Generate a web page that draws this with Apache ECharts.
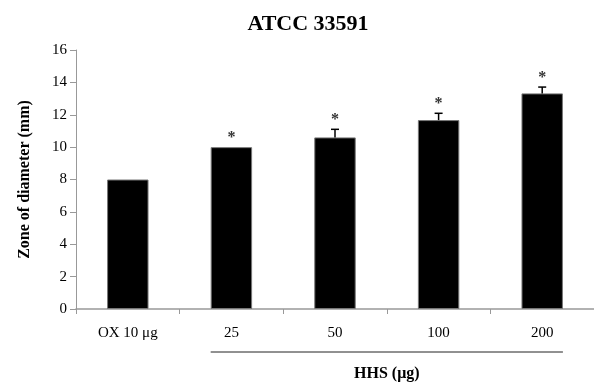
<!DOCTYPE html>
<html><head><meta charset="utf-8">
<script src="https://cdn.jsdelivr.net/npm/echarts@6/dist/echarts.min.js"></script>
<style>html,body{margin:0;padding:0;background:#fff}#c{width:594px;height:384px}</style>
</head><body><div id="c"></div>
<script>
const categories = ['OX 10 μg', '25', '50', '100', '200'];
const means = [8.0, 10.0, 10.6, 11.67, 13.32];
const errors = [0, 0, 0.5, 0.42, 0.39];
const marks = ['', '*', '*', '*', '*'];
const yTicks = [0, 2, 4, 6, 8, 10, 12, 14, 16];
const groupLabel = 'HHS (μg)';
const groupFrom = 1, groupTo = 4;

const serif = '"Liberation Serif", "DejaVu Serif", serif';
const chart = echarts.init(document.getElementById('c'), null, {renderer: 'canvas'});
const errData = means.map((m, i) => [i, m, errors[i], marks[i]]);

chart.setOption({
  animation: false,
  title: {text: 'ATCC 33591', left: 303, top: 8, textAlign: 'center',
    textStyle: {fontFamily: serif, fontWeight: 'bold', fontSize: 22, color: '#000'}},
  grid: {left: 76, right: 0, top: 50, bottom: 75},
  xAxis: {type: 'category', data: categories,
    axisLine: {lineStyle: {color: '#999', width: 1.5}},
    axisTick: {show: true, length: 5, lineStyle: {color: '#999'}},
    axisLabel: {fontFamily: serif, fontSize: 15, color: '#000', margin: 17}},
  yAxis: {type: 'value', min: yTicks[0], max: yTicks[yTicks.length - 1], interval: 2,
    name: 'Zone of diameter (mm)', nameLocation: 'middle', nameGap: 43, nameRotate: 90,
    nameTextStyle: {fontFamily: serif, fontWeight: 'bold', fontSize: 16, color: '#000'},
    axisLine: {show: true, lineStyle: {color: '#999'}},
    axisTick: {show: true, length: 6, lineStyle: {color: '#999'}},
    axisLabel: {fontFamily: serif, fontSize: 15, color: '#000', margin: 9},
    splitLine: {show: false}},
  series: [
    {type: 'bar', data: means, barWidth: '40%',
      itemStyle: {color: '#000', borderColor: '#777', borderWidth: 1}},
    {type: 'custom', data: errData, z: 5,
      renderItem: function (params, api) {
        const i = api.value(0), m = api.value(1), e = api.value(2);
        const top = api.coord([i, m + e]);
        const base = api.coord([i, m]);
        const children = [];
        if (e > 0) {
          children.push({type: 'line', shape: {x1: top[0], y1: base[1], x2: top[0], y2: top[1]},
            style: {stroke: '#000', lineWidth: 1.5}});
          children.push({type: 'line', shape: {x1: top[0] - 4, y1: top[1], x2: top[0] + 4, y2: top[1]},
            style: {stroke: '#000', lineWidth: 1.5}});
        }
        const mk = errData[params.dataIndex][3];
        if (mk) {
          children.push({type: 'text', x: top[0], y: top[1] - 1,
            style: {text: mk, fontFamily: serif, fontSize: 16, fontWeight: 'bold', fill: '#333',
              align: 'center', verticalAlign: 'bottom'}});
        }
        return {type: 'group', children: children};
      }}
  ]
});

function addGroup() {
  const a = chart.convertToPixel({xAxisIndex: 0}, groupFrom);
  const b = chart.convertToPixel({xAxisIndex: 0}, groupTo);
  const halfBar = 103.6 * 0.2;
  const x1 = a - halfBar, x2 = b + halfBar;
  const y0 = chart.convertToPixel({yAxisIndex: 0}, 0);
  chart.setOption({graphic: [
    {type: 'line', shape: {x1: x1, y1: y0 + 43, x2: x2, y2: y0 + 43},
      style: {stroke: '#222', lineWidth: 1}},
    {type: 'text', x: (x1 + x2) / 2, y: y0 + 65,
      style: {text: groupLabel, fontFamily: serif, fontWeight: 'bold', fontSize: 16, fill: '#000',
        align: 'center', verticalAlign: 'middle'}}
  ]});
}
addGroup();
</script></body></html>
